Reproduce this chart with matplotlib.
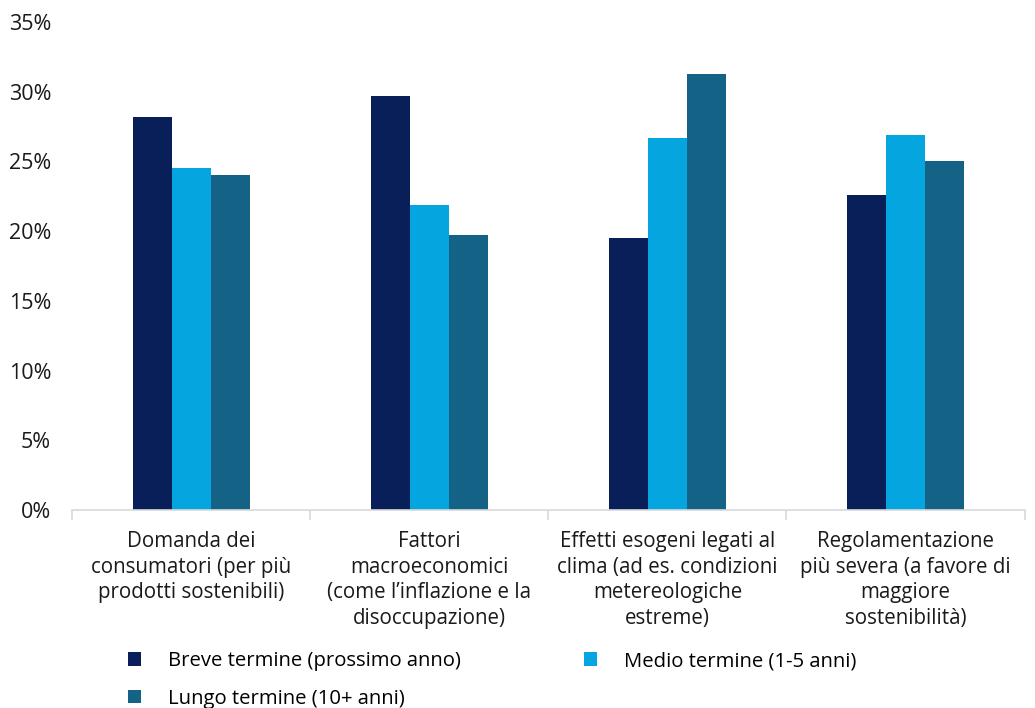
import numpy as np
import matplotlib.pyplot as plt
from matplotlib.patches import Patch
from matplotlib.ticker import FuncFormatter, FixedLocator

plt.rcParams["font.family"] = ["Open Sans", "DejaVu Sans"]

categories = [
    "Domanda dei\nconsumatori (per più\nprodotti sostenibili)",
    "Fattori\nmacroeconomici\n(come l\u2019inflazione e la\ndisoccupazione)",
    "Effetti esogeni legati al\nclima (ad es. condizioni\nmetereologiche\nestreme)",
    "Regolamentazione\npiù severa (a favore di\nmaggiore\nsostenibilità)",
]
series_names = [
    "Breve termine (prossimo anno)",
    "Medio termine (1-5 anni)",
    "Lungo termine (10+ anni)",
]
breve = [28.2, 29.7, 19.5, 22.6]
medio = [24.5, 21.9, 26.7, 26.9]
lungo = [24.0, 19.7, 31.3, 25.0]
yticks = [0, 5, 10, 15, 20, 25, 30, 35]

colors = ["#081F5A", "#05A5E0", "#156287"]

fig = plt.figure(figsize=(10.35, 7.08), dpi=100)
ax = fig.add_axes([0.0696, 0.2797, 0.9204, 0.6893])

x = np.arange(len(categories))
w = 0.164
for i, (vals, c, name) in enumerate(zip([breve, medio, lungo], colors, series_names)):
    ax.bar(x + (i - 1) * w, vals, width=w, color=c, label=name)

ax.set_xlim(-0.5, len(categories) - 0.5)
ax.set_ylim(0, 35)
ax.set_yticks(yticks)
ax.yaxis.set_major_formatter(FuncFormatter(lambda v, p: f"{v:.0f}%"))
ax.tick_params(axis="y", length=0, pad=15, labelsize=15.5, labelcolor="#1a1a1a")

ax.set_xticks(x)
ax.set_xticklabels(categories, fontsize=14.8, linespacing=1.3, color="#1a1a1a")
ax.tick_params(axis="x", which="major", length=0, pad=15)
ax.xaxis.set_minor_locator(FixedLocator(np.arange(len(categories) + 1) - 0.5))
ax.tick_params(axis="x", which="minor", length=7, color="#d9d9d9", width=1.2)

for s in ["top", "right", "left"]:
    ax.spines[s].set_visible(False)
ax.spines["bottom"].set_color("#d9d9d9")
ax.spines["bottom"].set_linewidth(1.2)

handles = [Patch(facecolor=c) for c in colors]
order = [0, 2, 1]
fig.legend([handles[k] for k in order], [series_names[k] for k in order],
           ncol=2, loc="upper left", bbox_to_anchor=(0.1237, 0.080),
           frameon=False, fontsize=14.6, handlelength=0.65, handleheight=0.65,
           handletextpad=1.3, columnspacing=6.1, labelspacing=0.85,
           borderaxespad=0, borderpad=0)

fig.savefig("out.png", dpi=100, facecolor="white")
